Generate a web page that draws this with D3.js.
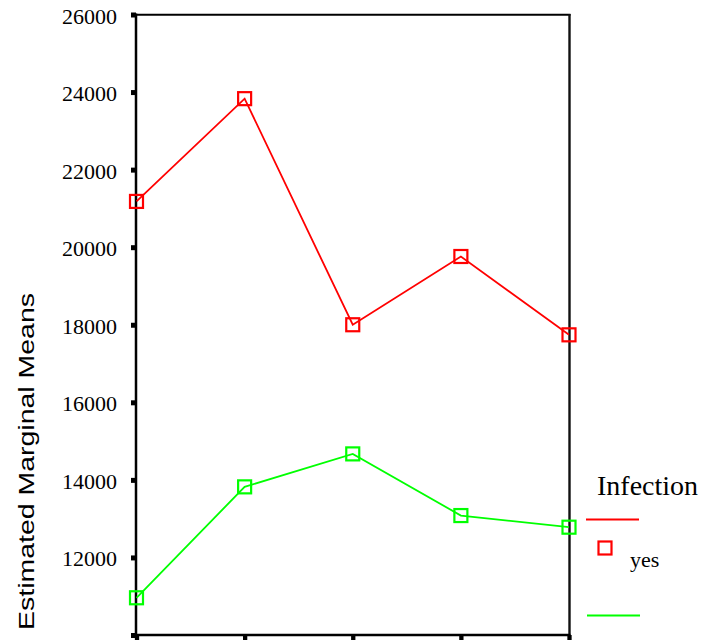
<!DOCTYPE html>
<html>
<head>
<meta charset="utf-8">
<script src="https://cdn.jsdelivr.net/npm/d3@7/dist/d3.min.js"></script>
<style>
  html, body { margin: 0; padding: 0; background: #fff; overflow: hidden; }
  svg { display: block; }
  .serif { font-family: 'Liberation Serif', 'Times New Roman', serif; }
</style>
</head>
<body>
<svg id="chart" width="701" height="641"></svg>
<script>
// ---- data ----
const categories = ["1", "2", "3", "4", "5"];
const seriesNames = ["yes", "no"];
const yesValues = [21180, 23830, 18000, 19760, 17740];
const noValues  = [10960, 13820, 14670, 13080, 12780];
const yTickValues = [10000, 12000, 14000, 16000, 18000, 20000, 22000, 24000, 26000];
const yTickLabels = ["", "12000", "14000", "16000", "18000", "20000", "22000", "24000", "26000"];
const legendTitle = "Infection";
const yTitle = "Estimated Marginal Means";

const colors = { yes: "#ff0000", no: "#00ff00" };
const SERIF = "'Liberation Serif', 'Times New Roman', serif";

const svg = d3.select("#chart");

const x = d3.scalePoint().domain(categories).range([136.5, 569]).padding(0);
const y = d3.scaleLinear().domain([10000, 26000]).range([635, 14.5]);

// frame: top and right borders
svg.append("line").attr("x1", 136).attr("x2", 570.5).attr("y1", 14.8).attr("y2", 14.8)
  .attr("stroke", "#000").attr("stroke-width", 2);
svg.append("line").attr("x1", 569.5).attr("x2", 569.5).attr("y1", 14).attr("y2", 635)
  .attr("stroke", "#111").attr("stroke-width", 2.4);

// y axis
const yAxis = d3.axisLeft(y)
  .tickValues(yTickValues)
  .tickFormat((d, i) => yTickLabels[i])
  .tickSize(5)
  .tickPadding(14);
const gy = svg.append("g").attr("transform", "translate(136,0)").call(yAxis);
gy.attr("font-family", null).attr("font-size", null).style("font-family", SERIF).style("font-size", "22px");
gy.select(".domain").attr("stroke", "#000").attr("stroke-width", 2.5).attr("d", "M0,13.5V636");
gy.selectAll(".tick line").attr("stroke", "#000").attr("stroke-width", 5);
gy.selectAll(".tick text")
  .attr("class", "serif")
  .style("font-family", SERIF)
  .style("font-size", "22px")
  .attr("fill", "#000")
  .attr("dy", "8.5px");

// x axis
const xAxis = d3.axisBottom(x).tickFormat(() => "").tickSize(5).tickPadding(4);
const gx = svg.append("g").attr("transform", "translate(0,635)").call(xAxis);
gx.select(".domain").attr("stroke", "#000").attr("stroke-width", 2.5).attr("d", "M135,0H570.5");
gx.selectAll(".tick line").attr("stroke", "#000").attr("stroke-width", 4.3);

// y title
svg.append("text")
  .attr("transform", "translate(33.5,461.5) rotate(-90)")
  .attr("text-anchor", "middle")
  .style("font-family", "'Liberation Sans', Arial, sans-serif")
  .style("font-size", "22px")
  .attr("textLength", 337)
  .attr("lengthAdjust", "spacingAndGlyphs")
  .attr("fill", "#000")
  .text(yTitle);

// series
const series = [
  { name: seriesNames[0], values: yesValues },
  { name: seriesNames[1], values: noValues }
];
const line = d3.line().x((d, i) => x(categories[i])).y(d => y(d));
const msize = 13;

series.forEach(s => {
  svg.append("path")
    .datum(s.values)
    .attr("d", line)
    .attr("fill", "none")
    .attr("stroke", colors[s.name])
    .attr("stroke-width", 1.8);
  svg.selectAll(null)
    .data(s.values)
    .enter()
    .append("rect")
    .attr("x", (d, i) => x(categories[i]) - msize / 2)
    .attr("y", d => y(d) - msize / 2)
    .attr("width", msize)
    .attr("height", msize)
    .attr("fill", "none")
    .attr("stroke", colors[s.name])
    .attr("stroke-width", 2.2);
});

// legend
svg.append("text")
  .attr("x", 597).attr("y", 495)
  .style("font-family", SERIF)
  .style("font-size", "28px")
  .attr("fill", "#000")
  .text(legendTitle);

svg.append("line").attr("x1", 586).attr("x2", 639).attr("y1", 519.5).attr("y2", 519.5)
  .attr("stroke", colors.yes).attr("stroke-width", 2);
svg.append("rect").attr("x", 598.5).attr("y", 541.5).attr("width", 13).attr("height", 13)
  .attr("fill", "none").attr("stroke", colors.yes).attr("stroke-width", 2.2);
svg.append("text")
  .attr("x", 630).attr("y", 567)
  .style("font-family", SERIF)
  .style("font-size", "22px")
  .attr("fill", "#000")
  .text(seriesNames[0]);

svg.append("line").attr("x1", 587).attr("x2", 640).attr("y1", 615.5).attr("y2", 615.5)
  .attr("stroke", colors.no).attr("stroke-width", 2);
</script>
</body>
</html>
